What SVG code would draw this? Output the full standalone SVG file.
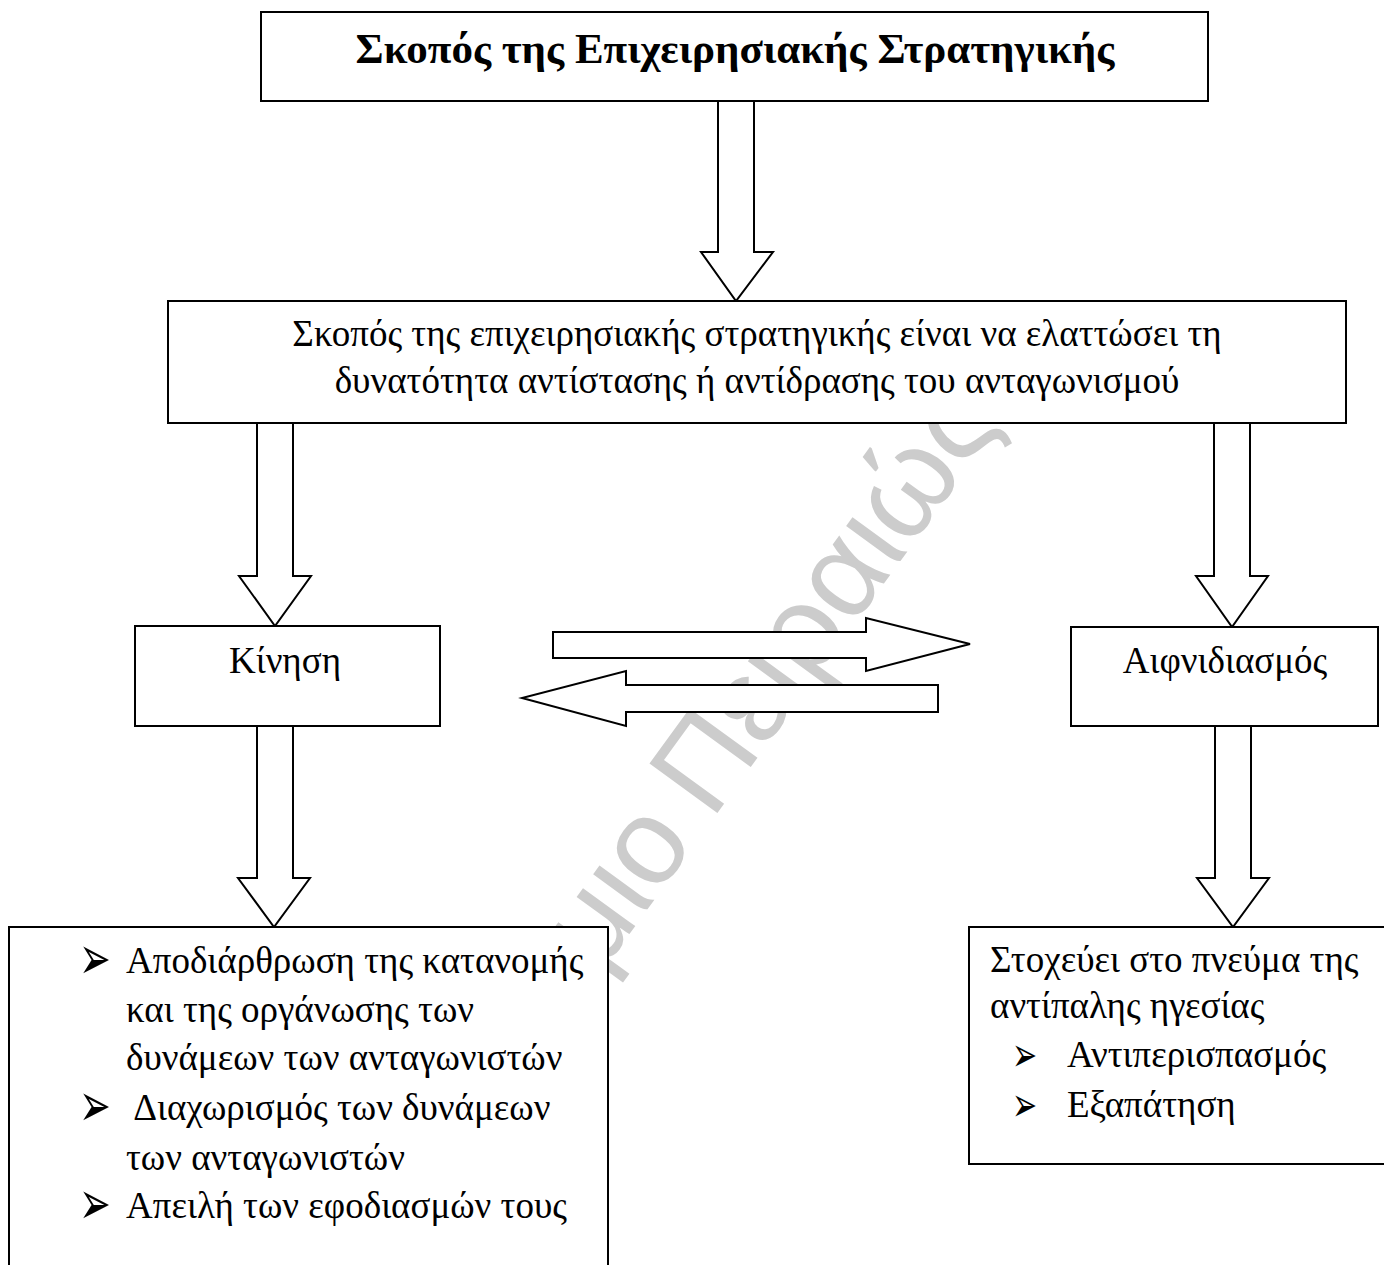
<svg xmlns="http://www.w3.org/2000/svg" width="1384" height="1265" viewBox="0 0 1384 1265">
<style>
.box{fill:#fff;stroke:#000;stroke-width:2}
.arr{fill:#fff;stroke:#000;stroke-width:2;stroke-linejoin:miter}
.t{font-family:"Liberation Serif","Times New Roman",serif;fill:#000;font-size:37px}
.b{font-family:"DejaVu Sans",sans-serif;fill:#000}
.wm{font-family:"Liberation Sans",Arial,sans-serif;fill:#cccccc}
</style>
<rect width="1384" height="1265" fill="#fff"/>
<g id="watermark">
<text class="wm" font-size="122" word-spacing="-8" transform="translate(1000,424) rotate(-54)" text-anchor="end">μιο Πειραιώς</text>
</g>
<g id="connectors">
<polygon class="arr" points="718,100 754,100 754,252 773,252 736,301 701,252 718,252"/>
<polygon class="arr" points="257,422 293,422 293,576 311,576 275,626 239,576 257,576"/>
<polygon class="arr" points="1214,422 1250,422 1250,576 1268,576 1232,627 1196,576 1214,576"/>
<polygon class="arr" points="257,726 293,726 293,878 310,878 274,927 238,878 257,878"/>
<polygon class="arr" points="1215,726 1251,726 1251,878 1269,878 1233,927 1197,878 1215,878"/>
<polygon class="arr" points="553,632 866,632 866,618 970,644 866,671 866,658 553,658"/>
<polygon class="arr" points="938,685 626,685 626,671 522,698 626,726 626,712 938,712"/>
</g>
<g id="n-title">
<rect class="box" x="261" y="12" width="947" height="89"/>
<text class="t" x="735" y="63" style="font-size:43px" font-weight="bold" text-anchor="middle">Σκοπός της Επιχειρησιακής Στρατηγικής</text>
</g>
<g id="n-purpose">
<rect class="box" x="168" y="301" width="1178" height="122"/>
<text class="t" x="757" y="346" text-anchor="middle">Σκοπός της επιχειρησιακής στρατηγικής είναι να ελαττώσει τη</text>
<text class="t" x="757" y="393" text-anchor="middle">δυνατότητα αντίστασης ή αντίδρασης του ανταγωνισμού</text>
</g>
<g id="n-kinisi">
<rect class="box" x="135" y="626" width="305" height="100"/>
<text class="t" x="285" y="673" text-anchor="middle">Κίνηση</text>
</g>
<g id="n-aifnidiasmos">
<rect class="box" x="1071" y="627" width="307" height="99"/>
<text class="t" x="1225" y="673" text-anchor="middle">Αιφνιδιασμός</text>
</g>
<g id="n-kinisi-list">
<rect class="box" x="9" y="927" width="599" height="360"/>
<text class="b" font-size="38" transform="translate(79,979) scale(1,1.6)">➢</text>
<text class="t" x="126" y="973">Αποδιάρθρωση της κατανομής</text>
<text class="t" x="126" y="1022">και της οργάνωσης των</text>
<text class="t" x="126" y="1070">δυνάμεων των ανταγωνιστών</text>
<text class="b" font-size="38" transform="translate(79,1126) scale(1,1.6)">➢</text>
<text class="t" x="126" y="1120" xml:space="preserve"> Διαχωρισμός των δυνάμεων</text>
<text class="t" x="126" y="1170">των ανταγωνιστών</text>
<text class="b" font-size="38" transform="translate(79,1224) scale(1,1.6)">➢</text>
<text class="t" x="126" y="1218">Απειλή των εφοδιασμών τους</text>
</g>
<g id="n-aifnidiasmos-list">
<rect class="box" x="969" y="927" width="430" height="237"/>
<text class="t" x="990" y="972">Στοχεύει στο πνεύμα της</text>
<text class="t" x="990" y="1018">αντίπαλης ηγεσίας</text>
<text class="b" font-size="30" transform="translate(1012,1071) scale(1,1.6)">➢</text>
<text class="t" x="1067" y="1067">Αντιπερισπασμός</text>
<text class="b" font-size="30" transform="translate(1012,1121) scale(1,1.6)">➢</text>
<text class="t" x="1067" y="1117">Εξαπάτηση</text>
</g>
</svg>
